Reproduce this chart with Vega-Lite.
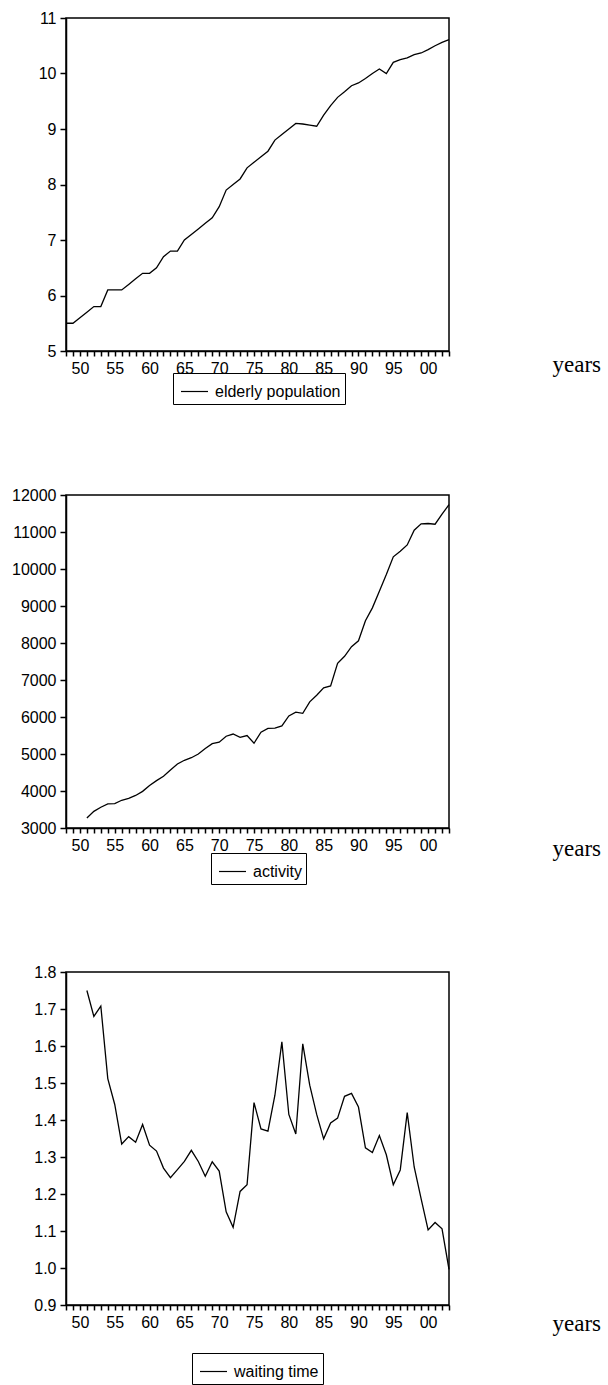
{
  "$schema": "https://vega.github.io/schema/vega-lite/v6.json",
  "background": "white",
  "padding": {"left": 10, "top": 9, "right": 0, "bottom": 0},
  "data": {"values": [
    {"series": "elderly population", "year": 1948, "value": 5.5},
    {"series": "elderly population", "year": 1949, "value": 5.5},
    {"series": "elderly population", "year": 1950, "value": 5.6},
    {"series": "elderly population", "year": 1951, "value": 5.7},
    {"series": "elderly population", "year": 1952, "value": 5.8},
    {"series": "elderly population", "year": 1953, "value": 5.8},
    {"series": "elderly population", "year": 1954, "value": 6.1},
    {"series": "elderly population", "year": 1955, "value": 6.1},
    {"series": "elderly population", "year": 1956, "value": 6.1},
    {"series": "elderly population", "year": 1957, "value": 6.2},
    {"series": "elderly population", "year": 1958, "value": 6.3},
    {"series": "elderly population", "year": 1959, "value": 6.4},
    {"series": "elderly population", "year": 1960, "value": 6.4},
    {"series": "elderly population", "year": 1961, "value": 6.5},
    {"series": "elderly population", "year": 1962, "value": 6.7},
    {"series": "elderly population", "year": 1963, "value": 6.8},
    {"series": "elderly population", "year": 1964, "value": 6.8},
    {"series": "elderly population", "year": 1965, "value": 7.0},
    {"series": "elderly population", "year": 1966, "value": 7.1},
    {"series": "elderly population", "year": 1967, "value": 7.2},
    {"series": "elderly population", "year": 1968, "value": 7.3},
    {"series": "elderly population", "year": 1969, "value": 7.4},
    {"series": "elderly population", "year": 1970, "value": 7.6},
    {"series": "elderly population", "year": 1971, "value": 7.9},
    {"series": "elderly population", "year": 1972, "value": 8.0},
    {"series": "elderly population", "year": 1973, "value": 8.1},
    {"series": "elderly population", "year": 1974, "value": 8.3},
    {"series": "elderly population", "year": 1975, "value": 8.4},
    {"series": "elderly population", "year": 1976, "value": 8.5},
    {"series": "elderly population", "year": 1977, "value": 8.6},
    {"series": "elderly population", "year": 1978, "value": 8.8},
    {"series": "elderly population", "year": 1979, "value": 8.9},
    {"series": "elderly population", "year": 1980, "value": 9.0},
    {"series": "elderly population", "year": 1981, "value": 9.1},
    {"series": "elderly population", "year": 1982, "value": 9.09},
    {"series": "elderly population", "year": 1983, "value": 9.07},
    {"series": "elderly population", "year": 1984, "value": 9.05},
    {"series": "elderly population", "year": 1985, "value": 9.25},
    {"series": "elderly population", "year": 1986, "value": 9.42},
    {"series": "elderly population", "year": 1987, "value": 9.57},
    {"series": "elderly population", "year": 1988, "value": 9.67},
    {"series": "elderly population", "year": 1989, "value": 9.78},
    {"series": "elderly population", "year": 1990, "value": 9.83},
    {"series": "elderly population", "year": 1991, "value": 9.91},
    {"series": "elderly population", "year": 1992, "value": 10.0},
    {"series": "elderly population", "year": 1993, "value": 10.08},
    {"series": "elderly population", "year": 1994, "value": 10.0},
    {"series": "elderly population", "year": 1995, "value": 10.2},
    {"series": "elderly population", "year": 1996, "value": 10.25},
    {"series": "elderly population", "year": 1997, "value": 10.28},
    {"series": "elderly population", "year": 1998, "value": 10.34},
    {"series": "elderly population", "year": 1999, "value": 10.37},
    {"series": "elderly population", "year": 2000, "value": 10.43},
    {"series": "elderly population", "year": 2001, "value": 10.5},
    {"series": "elderly population", "year": 2002, "value": 10.56},
    {"series": "elderly population", "year": 2003, "value": 10.61},
    {"series": "activity", "year": 1951, "value": 3270},
    {"series": "activity", "year": 1952, "value": 3450},
    {"series": "activity", "year": 1953, "value": 3560},
    {"series": "activity", "year": 1954, "value": 3650},
    {"series": "activity", "year": 1955, "value": 3660},
    {"series": "activity", "year": 1956, "value": 3750},
    {"series": "activity", "year": 1957, "value": 3800},
    {"series": "activity", "year": 1958, "value": 3880},
    {"series": "activity", "year": 1959, "value": 3990},
    {"series": "activity", "year": 1960, "value": 4150},
    {"series": "activity", "year": 1961, "value": 4280},
    {"series": "activity", "year": 1962, "value": 4400},
    {"series": "activity", "year": 1963, "value": 4570},
    {"series": "activity", "year": 1964, "value": 4730},
    {"series": "activity", "year": 1965, "value": 4830},
    {"series": "activity", "year": 1966, "value": 4900},
    {"series": "activity", "year": 1967, "value": 5000},
    {"series": "activity", "year": 1968, "value": 5150},
    {"series": "activity", "year": 1969, "value": 5280},
    {"series": "activity", "year": 1970, "value": 5320},
    {"series": "activity", "year": 1971, "value": 5480},
    {"series": "activity", "year": 1972, "value": 5540},
    {"series": "activity", "year": 1973, "value": 5450},
    {"series": "activity", "year": 1974, "value": 5500},
    {"series": "activity", "year": 1975, "value": 5290},
    {"series": "activity", "year": 1976, "value": 5590},
    {"series": "activity", "year": 1977, "value": 5690},
    {"series": "activity", "year": 1978, "value": 5700},
    {"series": "activity", "year": 1979, "value": 5760},
    {"series": "activity", "year": 1980, "value": 6030},
    {"series": "activity", "year": 1981, "value": 6130},
    {"series": "activity", "year": 1982, "value": 6100},
    {"series": "activity", "year": 1983, "value": 6410},
    {"series": "activity", "year": 1984, "value": 6590},
    {"series": "activity", "year": 1985, "value": 6790},
    {"series": "activity", "year": 1986, "value": 6840},
    {"series": "activity", "year": 1987, "value": 7450},
    {"series": "activity", "year": 1988, "value": 7640},
    {"series": "activity", "year": 1989, "value": 7900},
    {"series": "activity", "year": 1990, "value": 8060},
    {"series": "activity", "year": 1991, "value": 8600},
    {"series": "activity", "year": 1992, "value": 8950},
    {"series": "activity", "year": 1993, "value": 9400},
    {"series": "activity", "year": 1994, "value": 9850},
    {"series": "activity", "year": 1995, "value": 10330},
    {"series": "activity", "year": 1996, "value": 10480},
    {"series": "activity", "year": 1997, "value": 10650},
    {"series": "activity", "year": 1998, "value": 11050},
    {"series": "activity", "year": 1999, "value": 11220},
    {"series": "activity", "year": 2000, "value": 11230},
    {"series": "activity", "year": 2001, "value": 11210},
    {"series": "activity", "year": 2002, "value": 11480},
    {"series": "activity", "year": 2003, "value": 11740},
    {"series": "waiting time", "year": 1951, "value": 1.75},
    {"series": "waiting time", "year": 1952, "value": 1.68},
    {"series": "waiting time", "year": 1953, "value": 1.708},
    {"series": "waiting time", "year": 1954, "value": 1.512},
    {"series": "waiting time", "year": 1955, "value": 1.442},
    {"series": "waiting time", "year": 1956, "value": 1.335},
    {"series": "waiting time", "year": 1957, "value": 1.355},
    {"series": "waiting time", "year": 1958, "value": 1.34},
    {"series": "waiting time", "year": 1959, "value": 1.388},
    {"series": "waiting time", "year": 1960, "value": 1.332},
    {"series": "waiting time", "year": 1961, "value": 1.316},
    {"series": "waiting time", "year": 1962, "value": 1.27},
    {"series": "waiting time", "year": 1963, "value": 1.244},
    {"series": "waiting time", "year": 1964, "value": 1.266},
    {"series": "waiting time", "year": 1965, "value": 1.288},
    {"series": "waiting time", "year": 1966, "value": 1.318},
    {"series": "waiting time", "year": 1967, "value": 1.288},
    {"series": "waiting time", "year": 1968, "value": 1.248},
    {"series": "waiting time", "year": 1969, "value": 1.287},
    {"series": "waiting time", "year": 1970, "value": 1.262},
    {"series": "waiting time", "year": 1971, "value": 1.152},
    {"series": "waiting time", "year": 1972, "value": 1.11},
    {"series": "waiting time", "year": 1973, "value": 1.207},
    {"series": "waiting time", "year": 1974, "value": 1.225},
    {"series": "waiting time", "year": 1975, "value": 1.447},
    {"series": "waiting time", "year": 1976, "value": 1.376},
    {"series": "waiting time", "year": 1977, "value": 1.37},
    {"series": "waiting time", "year": 1978, "value": 1.467},
    {"series": "waiting time", "year": 1979, "value": 1.611},
    {"series": "waiting time", "year": 1980, "value": 1.415},
    {"series": "waiting time", "year": 1981, "value": 1.362},
    {"series": "waiting time", "year": 1982, "value": 1.606},
    {"series": "waiting time", "year": 1983, "value": 1.494},
    {"series": "waiting time", "year": 1984, "value": 1.415},
    {"series": "waiting time", "year": 1985, "value": 1.349},
    {"series": "waiting time", "year": 1986, "value": 1.392},
    {"series": "waiting time", "year": 1987, "value": 1.405},
    {"series": "waiting time", "year": 1988, "value": 1.464},
    {"series": "waiting time", "year": 1989, "value": 1.472},
    {"series": "waiting time", "year": 1990, "value": 1.435},
    {"series": "waiting time", "year": 1991, "value": 1.325},
    {"series": "waiting time", "year": 1992, "value": 1.312},
    {"series": "waiting time", "year": 1993, "value": 1.358},
    {"series": "waiting time", "year": 1994, "value": 1.306},
    {"series": "waiting time", "year": 1995, "value": 1.225},
    {"series": "waiting time", "year": 1996, "value": 1.265},
    {"series": "waiting time", "year": 1997, "value": 1.42},
    {"series": "waiting time", "year": 1998, "value": 1.273},
    {"series": "waiting time", "year": 1999, "value": 1.187},
    {"series": "waiting time", "year": 2000, "value": 1.103},
    {"series": "waiting time", "year": 2001, "value": 1.123},
    {"series": "waiting time", "year": 2002, "value": 1.106},
    {"series": "waiting time", "year": 2003, "value": 0.996}
  ]},
  "vconcat": [
    {
      "width": 383, "height": 333,
      "transform": [{"filter": "datum.series == 'elderly population'"}],
      "mark": {"type": "line", "strokeWidth": 1.3},
      "encoding": {
        "x": {"field": "year", "type": "quantitative",
          "scale": {"domain": [1948, 2003], "nice": false, "zero": false},
          "axis": {"values": [1948,1949,1950,1951,1952,1953,1954,1955,1956,1957,1958,1959,1960,1961,1962,1963,1964,1965,1966,1967,1968,1969,1970,1971,1972,1973,1974,1975,1976,1977,1978,1979,1980,1981,1982,1983,1984,1985,1986,1987,1988,1989,1990,1991,1992,1993,1994,1995,1996,1997,1998,1999,2000,2001,2002,2003],
            "ticks": true, "tickSize": 5, "tickWidth": 1.5, "tickColor": "black", "tickOpacity": 1, "labelPadding": 4,
            "labelExpr": "datum.value % 5 == 0 ? format(datum.value % 100, '02d') : ''",
            "title": "years", "titleX": 486, "titleY": 20, "titleAlign": "left", "titleBaseline": "alphabetic", "titleAnchor": null}},
        "y": {"field": "value", "type": "quantitative",
          "scale": {"domain": [5, 11], "nice": false, "zero": false},
          "axis": {"values": [5, 6, 7, 8, 9, 10, 11], "format": "d", "title": null,
            "ticks": true, "tickSize": 6, "tickWidth": 1.5, "tickColor": "black", "tickOpacity": 1, "labelPadding": 4}},
        "stroke": {"field": "series", "type": "nominal", "scale": {"range": ["black"]},
          "legend": {"orient": "none", "legendX": 107, "legendY": 355}}
      }
    },
    {
      "width": 383, "height": 333,
      "transform": [{"filter": "datum.series == 'activity'"}],
      "mark": {"type": "line", "strokeWidth": 1.3},
      "encoding": {
        "x": {"field": "year", "type": "quantitative",
          "scale": {"domain": [1948, 2003], "nice": false, "zero": false},
          "axis": {"values": [1948,1949,1950,1951,1952,1953,1954,1955,1956,1957,1958,1959,1960,1961,1962,1963,1964,1965,1966,1967,1968,1969,1970,1971,1972,1973,1974,1975,1976,1977,1978,1979,1980,1981,1982,1983,1984,1985,1986,1987,1988,1989,1990,1991,1992,1993,1994,1995,1996,1997,1998,1999,2000,2001,2002,2003],
            "ticks": true, "tickSize": 5, "tickWidth": 1.5, "tickColor": "black", "tickOpacity": 1, "labelPadding": 4,
            "labelExpr": "datum.value % 5 == 0 ? format(datum.value % 100, '02d') : ''",
            "title": "years", "titleX": 486, "titleY": 27, "titleAlign": "left", "titleBaseline": "alphabetic", "titleAnchor": null}},
        "y": {"field": "value", "type": "quantitative",
          "scale": {"domain": [3000, 12000], "nice": false, "zero": false},
          "axis": {"values": [3000, 4000, 5000, 6000, 7000, 8000, 9000, 10000, 11000, 12000], "format": "d", "title": null,
            "ticks": true, "tickSize": 6, "tickWidth": 1.5, "tickColor": "black", "tickOpacity": 1, "labelPadding": 4}},
        "stroke": {"field": "series", "type": "nominal", "scale": {"range": ["black"]},
          "legend": {"orient": "none", "legendX": 145, "legendY": 358}}
      }
    },
    {
      "width": 383, "height": 333,
      "transform": [{"filter": "datum.series == 'waiting time'"}],
      "mark": {"type": "line", "strokeWidth": 1.3},
      "encoding": {
        "x": {"field": "year", "type": "quantitative",
          "scale": {"domain": [1948, 2003], "nice": false, "zero": false},
          "axis": {"values": [1948,1949,1950,1951,1952,1953,1954,1955,1956,1957,1958,1959,1960,1961,1962,1963,1964,1965,1966,1967,1968,1969,1970,1971,1972,1973,1974,1975,1976,1977,1978,1979,1980,1981,1982,1983,1984,1985,1986,1987,1988,1989,1990,1991,1992,1993,1994,1995,1996,1997,1998,1999,2000,2001,2002,2003],
            "ticks": true, "tickSize": 5, "tickWidth": 1.5, "tickColor": "black", "tickOpacity": 1, "labelPadding": 4,
            "labelExpr": "datum.value % 5 == 0 ? format(datum.value % 100, '02d') : ''",
            "title": "years", "titleX": 486, "titleY": 25, "titleAlign": "left", "titleBaseline": "alphabetic", "titleAnchor": null}},
        "y": {"field": "value", "type": "quantitative",
          "scale": {"domain": [0.9, 1.8], "nice": false, "zero": false},
          "axis": {"values": [0.9, 1.0, 1.1, 1.2, 1.3, 1.4, 1.5, 1.6, 1.7, 1.8], "format": ".1f", "title": null,
            "ticks": true, "tickSize": 6, "tickWidth": 1.5, "tickColor": "black", "tickOpacity": 1, "labelPadding": 4}},
        "stroke": {"field": "series", "type": "nominal", "scale": {"range": ["black"]},
          "legend": {"orient": "none", "legendX": 126, "legendY": 381}}
      }
    }
  ],
  "spacing": 144,
  "bounds": "flush",
  "resolve": {"scale": {"stroke": "independent", "x": "independent", "y": "independent"}, "legend": {"stroke": "independent"}},
  "config": {
    "font": "Liberation Sans",
    "view": {"stroke": "black", "strokeWidth": 1.5},
    "axis": {
      "grid": false, "domainColor": "black", "domainWidth": 1.5,
      "labelColor": "black", "labelFont": "Liberation Sans", "labelFontSize": 16,
      "labelOverlap": false, "labelFlush": false, "labelBound": false,
      "titleFont": "Liberation Serif", "titleFontSize": 23, "titleFontWeight": "normal", "titleColor": "black"
    },
    "legend": {
      "title": null, "symbolType": "stroke", "symbolSize": 729, "symbolStrokeWidth": 1.2, "symbolStrokeColor": "black",
      "strokeColor": "black", "padding": 4, "symbolOffset": 3, "labelOffset": 6,
      "labelFont": "Liberation Sans", "labelFontSize": 16, "labelColor": "black"
    }
  }
}
